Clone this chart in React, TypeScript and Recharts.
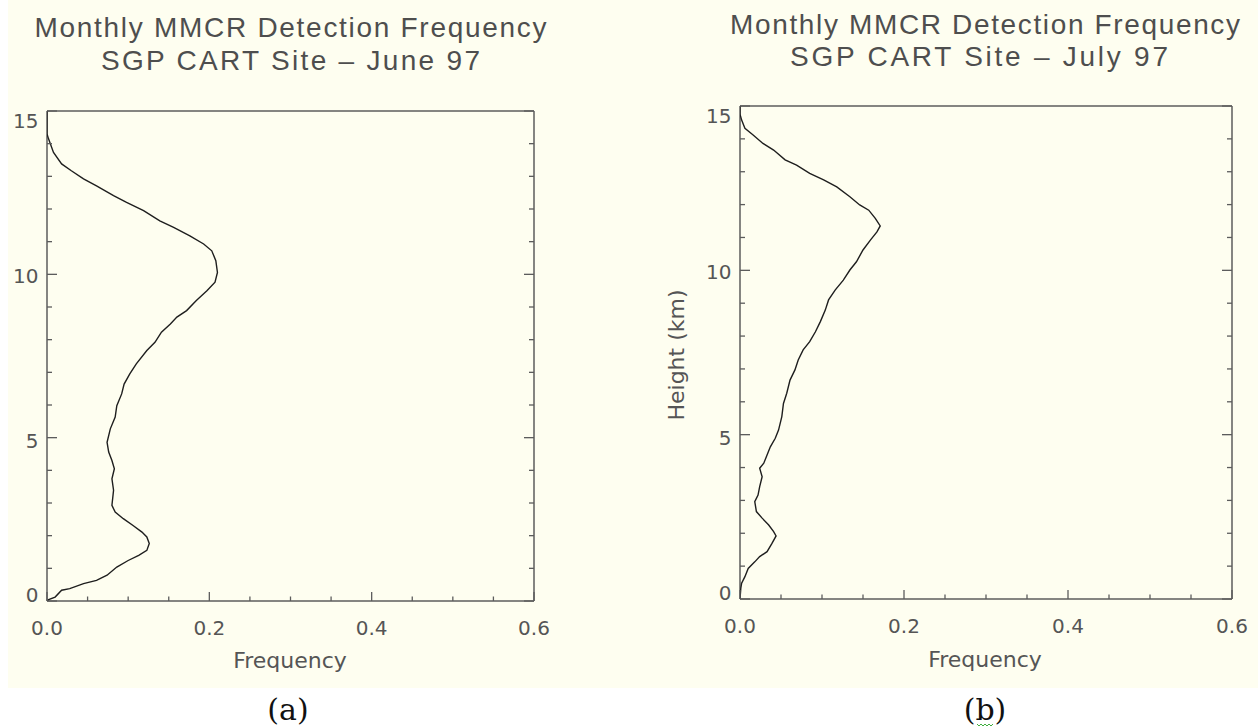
import React from 'react';
import { ScatterChart, Scatter, XAxis, YAxis } from 'recharts';

// June 97 profile: height (km) and detection frequency
const juneHeight = [
  0.0, 0.04, 0.12, 0.33, 0.38, 0.53, 0.63, 0.79, 1.04, 1.24, 1.4, 1.55, 1.76, 1.96, 2.11, 2.31,
  2.52, 2.72, 2.93, 3.39, 3.74, 4.05, 4.3, 4.56, 4.86, 5.27, 5.63, 5.98, 6.34, 6.64, 6.95, 7.26,
  7.67, 7.92, 8.23, 8.48, 8.69, 8.89, 9.2, 9.5, 9.76, 10.06, 10.42, 10.72, 10.93, 11.18, 11.44,
  11.64, 11.95, 12.2, 12.41, 12.71, 12.92, 13.17, 13.38, 13.73, 14.14, 14.3, 15.0
];
const juneFreq = [
  0.0, 0.002, 0.01, 0.018, 0.028, 0.045, 0.061, 0.074, 0.086, 0.1, 0.113, 0.123, 0.126, 0.123,
  0.117, 0.106, 0.094, 0.084, 0.08, 0.082, 0.08, 0.083, 0.08, 0.076, 0.074, 0.078, 0.084, 0.086,
  0.092, 0.095, 0.102, 0.11, 0.123, 0.133, 0.141, 0.152, 0.16, 0.172, 0.184, 0.197, 0.207, 0.21,
  0.208, 0.203, 0.193, 0.176, 0.156, 0.139, 0.119, 0.098, 0.082, 0.061, 0.045, 0.03, 0.018,
  0.008, 0.002, 0.0, 0.0
];

// July 97 profile, panel (b)
const julyHeight = [
  0.0, 0.33, 0.48, 0.68, 0.93, 1.13, 1.29, 1.44, 1.69, 1.92, 2.05, 2.25, 2.46, 2.66, 2.96, 3.16,
  3.42, 3.72, 3.98, 4.13, 4.38, 4.63, 4.89, 5.14, 5.55, 5.95, 6.26, 6.66, 6.97, 7.27, 7.58, 7.83,
  8.13, 8.44, 8.79, 9.1, 9.4, 9.7, 10.01, 10.26, 10.62, 10.92, 11.17, 11.35, 11.58, 11.83, 11.99,
  12.24, 12.54, 12.75, 12.95, 13.2, 13.36, 13.66, 13.86, 14.12, 14.32, 14.57, 14.75, 15.0
];
const julyFreq = [
  0.0, 0.001, 0.002, 0.006, 0.01, 0.018, 0.024, 0.033, 0.039, 0.044, 0.041, 0.035, 0.027, 0.02,
  0.018, 0.022, 0.024, 0.027, 0.024, 0.029, 0.033, 0.037, 0.043, 0.047, 0.051, 0.053, 0.057,
  0.061, 0.067, 0.071, 0.077, 0.085, 0.092, 0.098, 0.104, 0.108, 0.116, 0.126, 0.134, 0.142,
  0.15, 0.159, 0.167, 0.171, 0.165, 0.157, 0.146, 0.134, 0.118, 0.102, 0.085, 0.069, 0.055,
  0.041, 0.028, 0.016, 0.006, 0.002, 0.0, 0.0
];

const freqTicks = [0, 0.05, 0.1, 0.15, 0.2, 0.25, 0.3, 0.35, 0.4, 0.45, 0.5, 0.55, 0.6];
const freqMajor = [0, 0.2, 0.4, 0.6];
const heightTicks = [0, 1, 2, 3, 4, 5, 6, 7, 8, 9, 10, 11, 12, 13, 14, 15];
const heightMajor = [0, 5, 10, 15];

const toPoints = (h: number[], f: number[]) => h.map((v, i) => ({ h: v, f: f[i] }));

const AXIS = '#5c5c5c';
const TEXT = '#555555';
const SANS = '"DejaVu Sans", sans-serif';

const isMajorFreq = (v: number) => freqMajor.some((m) => Math.abs(m - v) < 1e-6);
const isMajorHeight = (v: number) => heightMajor.includes(v);

// IDL puts the end labels a bit inside the box
const heightLabelShift: Record<number, number> = { 0: -6, 5: 3, 10: 2, 15: 10 };

const BottomTick = (props: any) => {
  const { x, y, payload } = props;
  const major = isMajorFreq(payload.value);
  return (
    <g>
      <line x1={x} x2={x} y1={y} y2={y - (major ? 9 : 4.5)} stroke={AXIS} strokeWidth={1.3} />
      {major && (
        <text x={x} y={y + 34} textAnchor="middle" fontSize={20} fontFamily={SANS} fill={TEXT}>
          {payload.value.toFixed(1)}
        </text>
      )}
    </g>
  );
};

const TopTick = (props: any) => {
  const { x, y, payload } = props;
  const major = isMajorFreq(payload.value);
  return <line x1={x} x2={x} y1={y} y2={y + (major ? 9 : 4.5)} stroke={AXIS} strokeWidth={1.3} />;
};

const LeftTick = (props: any) => {
  const { x, y, payload } = props;
  const major = isMajorHeight(payload.value);
  return (
    <g>
      <line x1={x} x2={x + (major ? 10 : 5)} y1={y} y2={y} stroke={AXIS} strokeWidth={1.3} />
      {major && (
        <text
          x={x - 8.5}
          y={y + heightLabelShift[payload.value] + 7}
          textAnchor="end"
          fontSize={20}
          fontFamily={SANS}
          fill={TEXT}
        >
          {payload.value}
        </text>
      )}
    </g>
  );
};

const RightTick = (props: any) => {
  const { x, y, payload } = props;
  const major = isMajorHeight(payload.value);
  return <line x1={x} x2={x - (major ? 10 : 5)} y1={y} y2={y} stroke={AXIS} strokeWidth={1.3} />;
};

const NoDot = () => <g />;

interface PanelProps {
  data: { h: number; f: number }[];
  left: number;
  width: number;
  height: number;
  margin: { top: number; right: number; bottom: number; left: number };
}

// axes get a 1px box (a 0px one is not drawn), margins are 1px smaller to compensate
const ProfilePanel: React.FC<PanelProps> = ({ data, left, width, height, margin }) => (
  <div style={{ position: 'absolute', left, top: 0 }}>
    <ScatterChart width={width} height={height} margin={margin}>
      <XAxis
        xAxisId="bottom"
        type="number"
        dataKey="f"
        domain={[0, 0.6]}
        allowDataOverflow
        ticks={freqTicks}
        interval={0}
        height={1}
        tickSize={0}
        tickMargin={0}
        tickLine={false}
        tick={<BottomTick />}
        axisLine={{ stroke: AXIS, strokeWidth: 1.5 }}
      />
      <XAxis
        xAxisId="top"
        orientation="top"
        type="number"
        domain={[0, 0.6]}
        allowDataOverflow
        ticks={freqTicks}
        interval={0}
        height={1}
        tickSize={0}
        tickMargin={0}
        tickLine={false}
        tick={<TopTick />}
        axisLine={{ stroke: AXIS, strokeWidth: 1.5 }}
      />
      <YAxis
        yAxisId="left"
        type="number"
        dataKey="h"
        domain={[0, 15]}
        allowDataOverflow
        ticks={heightTicks}
        interval={0}
        width={1}
        tickSize={0}
        tickMargin={0}
        tickLine={false}
        tick={<LeftTick />}
        axisLine={{ stroke: AXIS, strokeWidth: 1.5 }}
      />
      <YAxis
        yAxisId="right"
        orientation="right"
        type="number"
        domain={[0, 15]}
        allowDataOverflow
        ticks={heightTicks}
        interval={0}
        width={1}
        tickSize={0}
        tickMargin={0}
        tickLine={false}
        tick={<RightTick />}
        axisLine={{ stroke: AXIS, strokeWidth: 1.5 }}
      />
      <Scatter
        xAxisId="bottom"
        yAxisId="left"
        data={data}
        line={{ stroke: '#1e1e1e', strokeWidth: 1.4 }}
        shape={NoDot}
        isAnimationActive={false}
      />
    </ScatterChart>
  </div>
);

const titleStyle = {
  fontFamily: '"Liberation Sans", Arial, sans-serif',
  fontSize: 28,
  fill: '#4e4e4e',
};

export default function App() {
  return (
    <div
      style={{
        position: 'absolute',
        left: 0,
        top: 0,
        width: 1258,
        height: 727,
        background: '#ffffff',
        overflow: 'hidden',
      }}
    >
      <div style={{ position: 'absolute', left: 8, top: 0, width: 1250, height: 688, background: '#fefef0' }} />
      <ProfilePanel
        data={toPoints(juneHeight, juneFreq)}
        left={0}
        width={600}
        height={700}
        margin={{ top: 110, right: 65, bottom: 98, left: 46 }}
      />
      <ProfilePanel
        data={toPoints(julyHeight, julyFreq)}
        left={640}
        width={618}
        height={700}
        margin={{ top: 105, right: 25, bottom: 100, left: 99 }}
      />
      <svg width={1258} height={727} style={{ position: 'absolute', left: 0, top: 0, pointerEvents: 'none' }}>
        <text x={290.5} y={37} textAnchor="middle" textLength={512} lengthAdjust="spacing" {...titleStyle}>
          Monthly MMCR Detection Frequency
        </text>
        <text x={290.5} y={70} textAnchor="middle" textLength={379} lengthAdjust="spacing" {...titleStyle}>
          SGP CART Site – June 97
        </text>
        <text x={985} y={34} textAnchor="middle" textLength={510} lengthAdjust="spacing" {...titleStyle}>
          Monthly MMCR Detection Frequency
        </text>
        <text x={979} y={66} textAnchor="middle" textLength={378} lengthAdjust="spacing" {...titleStyle}>
          SGP CART Site – July 97
        </text>

        <text x={290} y={668} textAnchor="middle" fontSize={22} fontFamily={SANS} fill={TEXT}>
          Frequency
        </text>
        <text x={985} y={667} textAnchor="middle" fontSize={22} fontFamily={SANS} fill={TEXT}>
          Frequency
        </text>
        <text
          x={0}
          y={0}
          transform="translate(684, 355) rotate(-90)"
          textAnchor="middle"
          fontSize={22}
          fontFamily={SANS}
          fill={TEXT}
        >
          Height (km)
        </text>

        <text x={288} y={720} textAnchor="middle" fontSize={30} fontFamily='"DejaVu Serif", serif' fill="#111">
          (a)
        </text>
        <text x={985} y={720} textAnchor="middle" fontSize={30} fontFamily='"DejaVu Serif", serif' fill="#111">
          (b)
        </text>
        <polyline
          points="977,724 979,726 981,724 983,726 985,724 987,726 989,724 991,726 993,724"
          fill="none"
          stroke="#3fae3f"
          strokeWidth={1}
        />
      </svg>
    </div>
  );
}
